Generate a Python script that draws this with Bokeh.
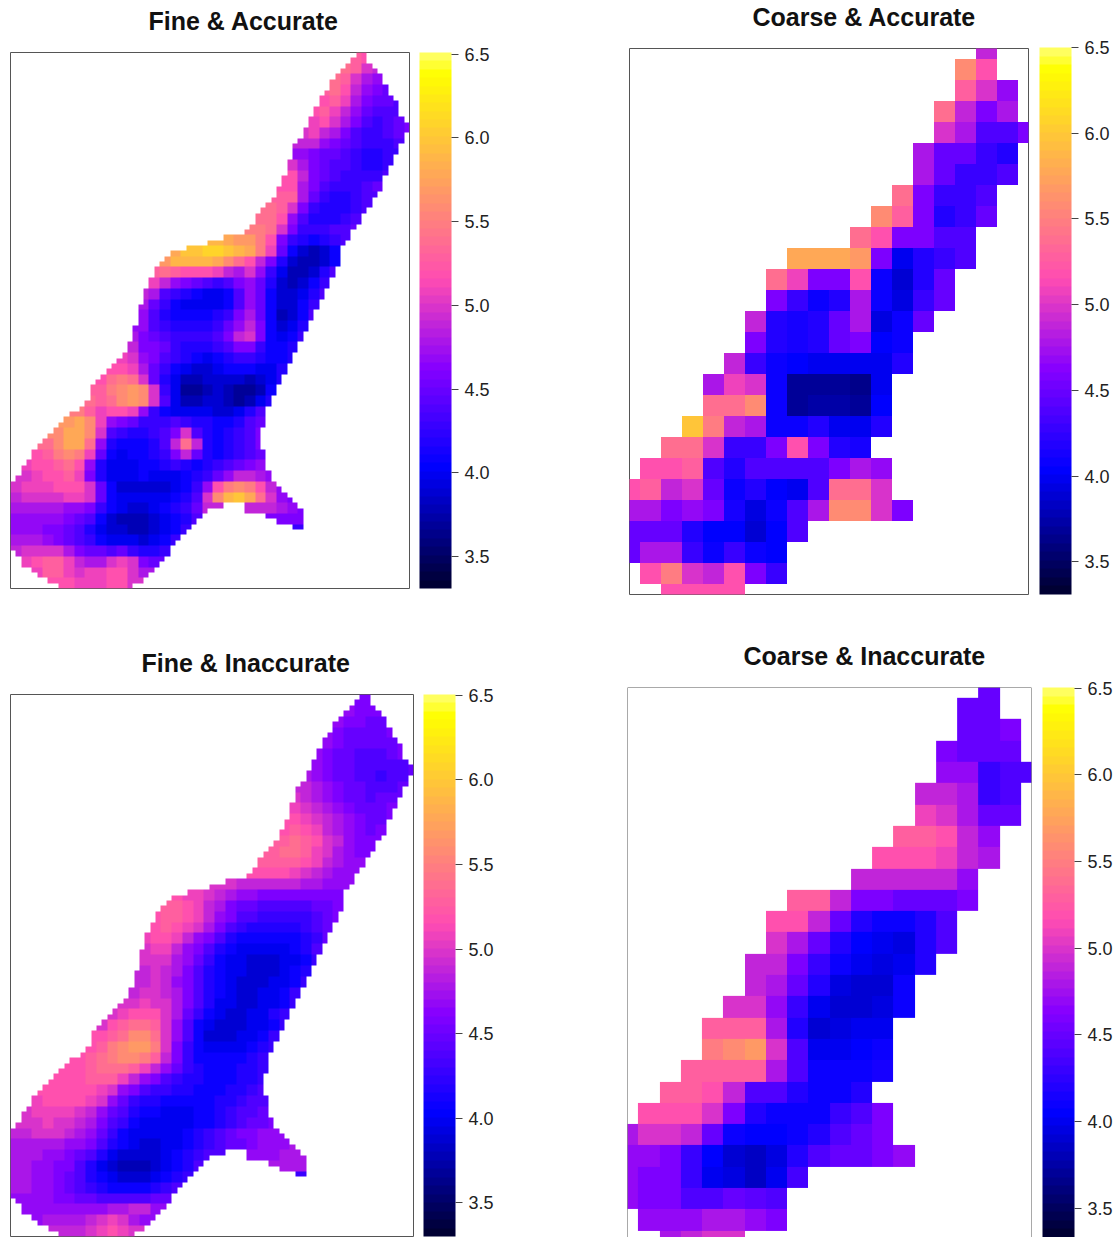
import numpy as np
from bokeh.plotting import figure
from bokeh.layouts import row, column
from bokeh.models import (ColorBar, FixedTicker, LinearColorMapper, NumeralTickFormatter,
                          Range1d, Span, Title)
from bokeh.embed import file_html
from bokeh.resources import INLINE

N = None
TICKS = [3.5, 4.0, 4.5, 5.0, 5.5, 6.0, 6.5]
TITLES = ["Fine & Accurate", "Coarse & Accurate", "Fine & Inaccurate", "Coarse & Inaccurate"]

# (first column, values x10) per row, top row first.
# The two fine fields are read at half the reference's cell resolution (2 x 2 reference cells
# carry one value), and are not interpolated, so they look blockier than the reference.
FINE_ACCURATE = [
 (32,[53,52]),(31,[54,53,50,49]),(30,[54,53,50,48,47,46]),(29,[53,54,52,49,47,46,45]),
 (29,[52,53,51,48,46,45,45,44]),(28,[52,53,51,49,47,45,44,44,44]),
 (28,[51,52,50,48,46,44,43,44,45,46]),(27,[50,51,49,48,46,44,43,43,44,45,46]),
 (27,[49,49,47,46,45,44,43,43,43,44]),(26,[47,47,46,45,45,44,43,42,42,43]),
 (26,[50,48,46,45,44,44,43,42,42,43]),(26,[52,49,46,45,44,43,43,43,43,44]),
 (25,[52,52,48,46,44,43,43,43,44,45]),(25,[53,53,48,45,43,42,42,43,44]),
 (24,[54,53,50,46,43,42,42,42,43,44]),(23,[54,54,52,47,44,42,42,42,43,44]),
 (22,[55,55,54,50,46,43,43,43,44,44,45]),(18,[59,59,58,57,57,55,52,46,43,42,41,42,43,44]),
 (14,[56,58,60,60,61,61,60,59,58,55,51,45,41,39,38,39,41,43]),
 (13,[56,57,59,59,59,59,58,56,54,52,49,46,42,39,38,38,39,41]),
 (13,[53,54,53,52,52,52,51,49,48,50,47,43,40,38,38,39,42,44]),
 (13,[51,49,47,46,45,44,43,44,46,47,45,42,39,38,39,41,43]),
 (12,[49,48,44,43,42,41,40,40,41,44,47,45,41,39,39,40,42,44]),
 (12,[48,45,43,41,40,40,40,40,41,44,47,45,41,39,39,41,43]),
 (12,[47,44,42,41,41,41,41,42,43,46,48,45,41,38,39,41,44]),
 (12,[47,44,43,42,42,42,42,43,45,47,49,46,41,39,40,42]),
 (11,[48,46,45,44,43,43,43,43,44,46,49,50,46,41,40,41,43]),
 (11,[49,46,46,45,43,42,42,42,43,44,46,46,43,41,41,42]),
 (10,[51,50,47,46,44,43,42,41,40,41,42,43,43,42,41,41,42]),
 (9,[52,52,51,48,45,43,41,40,39,39,40,41,41,41,40,40,42]),
 (8,[52,54,55,54,50,45,42,40,38,38,39,39,39,39,38,39,40,42]),
 (8,[53,55,56,57,56,50,43,40,37,37,38,39,38,37,37,38,41]),
 (7,[54,53,54,56,57,56,50,44,40,38,38,39,39,38,37,38,40,42]),
 (6,[55,53,51,52,52,51,47,43,41,40,40,40,40,39,39,40,42,44]),
 (5,[57,58,56,51,47,46,45,43,43,43,44,43,42,42,41,41,42,44,45]),
 (4,[56,58,58,56,50,44,43,42,42,43,44,46,50,44,42,41,42,43,44,46]),
 (3,[54,56,58,58,54,47,42,41,41,41,42,44,49,54,49,42,41,42,43,44,46]),
 (2,[52,53,55,56,55,51,45,41,40,41,41,42,43,46,49,45,42,41,42,43,44,45]),
 (1,[51,52,52,53,54,52,47,42,40,40,40,41,41,42,43,42,41,42,43,44,45,46,47]),
 (1,[50,51,52,52,53,51,46,42,40,40,40,41,40,40,40,41,42,43,45,47,49,49,48,47]),
 (0,[50,51,51,51,52,52,52,50,45,41,39,39,39,39,39,40,41,43,47,52,55,56,55,52,49,47]),
 (0,[49,50,50,50,50,51,51,50,45,41,40,40,40,40,40,41,42,44,50,56,59,60,58,54,50,47,46]),
 (0,[48,48,48,48,48,47,47,46,43,41,40,39,39,40,41,42,43,45,49,N,N,N,N,N,49,48,47,46]),
 (0,[47,47,47,47,47,46,45,44,41,39,38,38,38,39,40,41,42,44,N,N,N,N,N,N,N,N,46,46]),
 (0,[47,47,47,46,46,45,44,42,40,39,39,38,38,39,40,41,43]),
 (0,[48,48,48,47,46,45,44,43,41,40,40,40,39,40,41,43]),
 (0,[49,50,50,50,50,48,46,45,45,44,45,43,42,42,43]),
 (1,[51,52,53,53,51,49,48,48,50,51,50,46,45]),
 (2,[51,53,53,51,50,51,51,52,52,50,48]),
 (4,[52,52,51,51,51,52,52,50]),
]

FINE_INACCURATE = [
 (32,[46,46]),(31,[47,46,46,46]),(30,[47,46,46,45,45,46]),(29,[47,46,45,45,45,45,46]),
 (29,[47,46,45,45,45,45,45,46]),(28,[47,46,45,45,44,44,44,45,46]),
 (28,[47,46,45,45,44,44,44,44,44,45]),(27,[48,47,46,45,45,44,44,43,44,44,45]),
 (27,[49,48,47,46,45,45,44,44,44,45]),(26,[50,49,48,47,46,45,45,44,45,45]),
 (26,[51,50,49,48,47,46,45,45,45,46]),(26,[52,51,50,49,48,47,46,45,45,46]),
 (25,[52,53,52,51,49,48,47,46,45,46]),(25,[53,54,53,52,50,49,47,46,46]),
 (24,[53,54,54,53,51,50,48,47,46,46]),(23,[53,53,53,53,52,51,49,48,47,47]),
 (22,[52,52,52,52,51,50,49,48,47,47,47]),(18,[50,50,50,49,49,49,49,49,49,48,48,47,47,47]),
 (14,[52,52,51,51,50,49,48,47,47,46,46,46,46,46,46,46,46,47]),
 (13,[52,53,53,52,51,49,48,46,45,45,44,44,44,44,44,45,45,46]),
 (13,[52,53,53,52,51,49,47,46,44,44,43,43,43,43,43,44,45,46]),
 (13,[52,53,52,51,50,48,46,44,43,42,42,42,42,42,43,44,45]),
 (12,[51,52,52,51,49,47,46,44,42,41,41,41,41,41,41,42,43,45]),
 (12,[50,51,51,49,47,46,44,42,41,40,40,40,40,40,41,42,44]),
 (12,[50,50,50,48,47,45,43,41,40,40,39,39,39,40,40,41,43]),
 (12,[49,50,49,48,46,44,42,41,40,40,39,39,39,40,41,42]),
 (11,[49,49,50,49,47,46,44,42,41,40,39,39,39,40,40,41,43]),
 (11,[49,50,50,49,48,46,44,42,41,40,39,39,40,40,41,43]),
 (10,[50,50,51,50,50,48,46,44,42,40,40,39,39,40,40,41,43]),
 (9,[50,51,52,52,52,50,48,45,43,41,40,39,39,40,40,42,43]),
 (8,[50,52,53,54,54,53,50,47,44,41,40,39,39,39,40,40,41,43]),
 (8,[52,53,54,56,56,54,50,47,44,41,39,39,39,40,40,41,43]),
 (7,[52,53,55,56,57,57,55,50,46,43,41,40,40,40,40,41,42,43]),
 (6,[52,53,54,55,56,56,55,53,49,46,43,41,41,41,41,41,42,43]),
 (5,[52,52,53,54,54,54,53,51,49,47,45,43,42,41,41,41,42,42,43]),
 (4,[52,52,52,53,53,53,51,49,47,46,44,43,42,42,41,41,41,42,42,43]),
 (3,[52,52,52,52,52,51,50,47,46,44,43,43,42,42,41,41,41,42,42,43,44]),
 (2,[51,52,52,52,52,51,50,47,45,43,42,42,41,41,41,41,41,42,42,43,44,44]),
 (1,[50,51,51,51,51,50,49,47,45,44,42,41,41,40,40,40,41,41,42,43,44,44,45]),
 (1,[50,50,51,50,50,49,48,46,44,43,41,40,40,40,40,40,41,41,42,43,44,45,45,46]),
 (0,[49,49,50,50,50,49,48,47,45,43,41,40,40,40,40,40,41,42,43,44,45,46,46,47,47,47]),
 (0,[48,48,48,48,48,47,47,46,44,42,41,40,39,39,40,40,41,42,43,44,45,45,46,47,47,47,48]),
 (0,[48,48,48,47,47,46,45,44,42,40,39,39,39,39,40,41,42,43,44,N,N,N,N,N,47,48,48,48]),
 (0,[48,48,47,47,46,46,44,42,40,39,38,38,38,39,40,41,42,44,N,N,N,N,N,N,N,N,48,48]),
 (0,[48,48,47,47,46,45,44,42,41,40,39,39,39,40,41,42,43]),
 (0,[48,48,47,47,46,45,44,43,42,41,41,41,41,42,43,44]),
 (0,[47,47,47,47,46,46,45,45,44,44,44,44,44,45,45]),
 (1,[47,47,47,47,47,47,47,47,48,48,49,49,47]),
 (2,[47,48,48,48,48,49,50,51,50,48,47]),
 (4,[49,49,49,50,51,52,51,50]),
]

# Study area of the fine grid: occupied (first, last + 1) cells in each of its 100 rows
FINE_SPANS = [
 [(65,67)],[(64,67)],[(63,68)],[(62,69)],[(61,70)],[(60,70)],[(60,71)],[(59,71)],[(58,72)],[(58,73)],
 [(57,73)],[(57,73)],[(56,74)],[(56,75)],[(55,75)],[(55,74)],[(54,74)],[(53,73)],[(53,73)],[(53,72)],
 [(52,72)],[(52,71)],[(52,71)],[(51,70)],[(51,70)],[(50,70)],[(50,69)],[(49,68)],[(48,68)],[(47,67)],
 [(46,66)],[(46,66)],[(45,65)],[(44,64)],[(40,64)],[(37,63)],[(33,62)],[(30,62)],[(29,62)],[(28,62)],
 [(27,61)],[(27,61)],[(26,60)],[(26,60)],[(25,59)],[(25,59)],[(25,58)],[(24,58)],[(24,57)],[(24,57)],
 [(24,56)],[(23,56)],[(23,55)],[(23,55)],[(22,54)],[(22,54)],[(21,53)],[(20,53)],[(19,52)],[(18,52)],
 [(17,51)],[(16,51)],[(15,50)],[(15,50)],[(15,49)],[(14,49)],[(13,48)],[(11,48)],[(10,48)],[(9,48)],
 [(8,47)],[(7,47)],[(6,47)],[(5,47)],[(4,48)],[(4,48)],[(3,48)],[(2,48)],[(2,49)],[(1,49)],
 [(0,50)],[(0,51)],[(0,52)],[(0,53)],[(0,40),(44,54)],[(0,37),(44,55)],[(0,36),(48,55)],
 [(0,35),(50,55)],[(0,34),(53,55)],[(0,33)],[(0,32)],[(0,31)],[(0,30)],[(1,30)],[(2,29)],[(2,28)],
 [(4,27)],[(5,26)],[(7,25)],[(9,23)],
]

COARSE_ACCURATE = [
 (17,[49]),(16,[56,52]),(16,[53,50,47]),(15,[54,49,46,48]),(15,[50,48,44,44,46]),
 (14,[48,45,45,43,42]),(14,[48,45,43,43,44]),(13,[54,46,43,43,44]),(12,[56,53,46,42,43,45]),
 (11,[54,52,46,46,44,44]),(8,[58,58,58,57,46,40,42,43,44]),(7,[54,51,46,46,52,41,39,42,45]),
 (7,[46,43,41,42,48,41,39.5,43,45]),(6,[49,42,41.5,42,45,48,39.5,41,45]),
 (6,[46,42,41.5,42,45,46,40.5,41]),(5,[49,43,41,40.5,40,40,40,40,42]),
 (4,[48,51,50,41,37,37,37,36.5,40]),(4,[54,54,56,41,37,37.5,37.5,37,40.5]),
 (3,[60,55,49,48,41,41,42,40,40,42]),(2,[54,54,50,43,43,46,52,46,42,41.5]),
 (1,[52,52,53,44,42,44,44,44,44,46,48,47]),
 (0,[52,53,49,50,45,41,42,40.5,40,44,54,54,50]),
 (0,[48,48,46,47,46,41.5,39.5,41,44,48,56,56,50,46]),
 (0,[45,45,45,42,40.5,40.5,39,40.5,44]),(0,[45,48,48,43,41,43,41,40.5]),
 (1,[52,55,50,49,52,46,43]),(2,[52,52,52,52]),
]

COARSE_INACCURATE = [
 (17,[45]),(16,[45,45]),(16,[45,45,46]),(15,[46,45,45,45]),(15,[47,47,43,44,44]),
 (14,[49,49,48,43,44]),(14,[51,50,48,45,45]),(13,[53,53,52,49,47]),(12,[52,52,52,51,49,48]),
 (11,[49,49,49,49,49,47]),(8,[53,53,49,46,46,45,45,45,46]),(7,[52,52,49,45,42,41,41,42,44]),
 (7,[50,48,45,42,40.5,40,39.5,42,44]),(6,[49,49,46,43,41,40,39.5,40,42]),
 (6,[49,48,45,42,39.5,39,39,41]),(5,[50,50,47,43,40,39,39,39.5,41]),
 (4,[53,53,53,48,42,39,39.5,40,40]),(4,[55,56,57,50,44,40,40,40.5,41]),
 (3,[53,53,53,53,48,44,41,41,41,41.5]),(2,[53,53,52,49,44,44,42,41,41,42]),
 (1,[52,52,52,50,46,42,41,41,41,43,44,46]),
 (0,[48,50,50,49,45,41,40.5,40.5,41,42,44,45,46]),
 (0,[47,47,46,43,40.5,39,38.5,39.5,42,44,45,45,46,47]),
 (0,[47,46,46,43,40,39.5,38.5,40,43.5]),(0,[47,46,46,44,44,45,44.5,44]),
 (1,[47,47,47,48,48,47,46]),(2,[48,49,50,50]),
]


def bpy(n=64, cut=0.1):
    out = []
    for i in np.linspace(0.5 * cut, 1 - 0.5 * cut, n):
        r = 0 if i < .25 else (i / .32 - .78125 if i < .57 else 1)
        g = 0 if i < .42 else (2 * i - .84 if i < .92 else 1)
        b = 4 * i if i < .25 else (1 if i < .42 else (-2 * i + 1.84 if i < .92 else 12.5 * i - 11.5))
        out.append("#%02x%02x%02x" % (int(r * 255), int(g * 255), int(b * 255)))
    return out


PALETTE = bpy()


def grid(rows, ncols):
    a = np.full((len(rows), ncols), np.nan)
    for k, (start, vals) in enumerate(rows):
        for j, v in enumerate(vals):
            if v is not None:
                a[k, start + j] = v / 10.0
    return a


def fine_grid(rows):
    """Each read value fills its 2 x 2 block of fine cells, inside the study area only."""
    vals = grid(rows, 38)
    out = np.full((100, 75), np.nan)
    for f, spans in enumerate(FINE_SPANS):
        rowvals = vals[f // 2]
        have = np.flatnonzero(~np.isnan(rowvals))
        for s, e in spans:
            for fc in range(s, e):
                c = fc // 2
                # a cell at the rim takes the value of its nearest read block in the row
                out[f, fc] = rowvals[c] if not np.isnan(rowvals[c]) else rowvals[have[np.argmin(abs(have - c))]]
    return out


def panel(name, rows, fine, width, height, left, top, fw, fh, bar_x, low, high, title_off,
          bottom_line=True, vis_rows=None):
    if fine:
        a = fine_grid(rows)
        xr = Range1d(0, 75); yr = Range1d(-100, 0)
        xi, dw, yi, dh = 0, 75, -100, 100
    else:
        a = grid(rows, 20)
        n = len(rows)
        xr = Range1d(0, 19); yr = Range1d(-(vis_rows or 26), 0)
        xi, dw, yi, dh = -0.5, 20, -(n - 0.5), n
    p = figure(width=width, height=height, x_range=xr, y_range=yr, x_axis_type=None, y_axis_type=None,
               toolbar_location=None, output_backend="svg",
               min_border_left=left, min_border_top=top,
               min_border_right=width - left - fw, min_border_bottom=height - top - fh,
               background_fill_color="white", border_fill_color="white")
    p.grid.visible = False
    mapper = LinearColorMapper(palette=PALETTE, low=3.31, high=6.51, nan_color="rgba(0,0,0,0)")
    p.image(image=[a[::-1]], x=xi, y=yi, dw=dw, dh=dh, color_mapper=mapper)
    if bottom_line:
        p.outline_line_color = "#555555"
    else:
        p.outline_line_color = None
        for loc, dim in ((xr.start, "height"), (xr.end, "height"), (yr.end, "width")):
            p.add_layout(Span(location=loc, dimension=dim, line_color="#555555", line_width=1))
    p.title = Title(text=name, align="left", offset=title_off, standoff=0,
                    text_font="Liberation Sans", text_font_size="25px", text_font_style="bold",
                    text_color="#111111")
    # an empty title between the frame and the real one lifts the latter by its height
    p.add_layout(Title(text=" ", text_font_size="14px", standoff=0), "above")
    bar_mapper = LinearColorMapper(palette=PALETTE, low=low, high=high)
    cb = ColorBar(color_mapper=bar_mapper, ticker=FixedTicker(ticks=TICKS),
                  formatter=NumeralTickFormatter(format="0.0"),
                  location=(bar_x, 0), width=32, height=fh, padding=0, margin=0,
                  major_tick_in=0, major_tick_out=7, major_tick_line_color="#444444",
                  minor_tick_line_color=None, bar_line_color=None, border_line_color=None,
                  background_fill_color=None, label_standoff=6,
                  major_label_text_font="Liberation Sans", major_label_text_font_size="18px",
                  major_label_text_color="#222222")
    p.add_layout(cb, "center")
    return p


a = panel(TITLES[0], FINE_ACCURATE, True, 610, 625, 10, 52, 399, 536, 409, 3.31, 6.51, 138)
b = panel(TITLES[1], COARSE_ACCURATE, False, 510, 625, 19, 47, 399, 547, 410, 3.31, 6.50, 123)
c = panel(TITLES[2], FINE_INACCURATE, True, 610, 612, 10, 69, 403, 542, 413, 3.30, 6.505, 131)
d = panel(TITLES[3], COARSE_INACCURATE, False, 510, 612, 17, 62, 404, 550, 415, 3.33, 6.505, 116,
          bottom_line=False, vis_rows=25.82)

# each figure sits in a column of its own, so that the frames of a row are not aligned
layout = column(row(column(a), column(b), spacing=0), row(column(c), column(d), spacing=0), spacing=0)
open("out.html", "w").write(file_html(layout, INLINE))
